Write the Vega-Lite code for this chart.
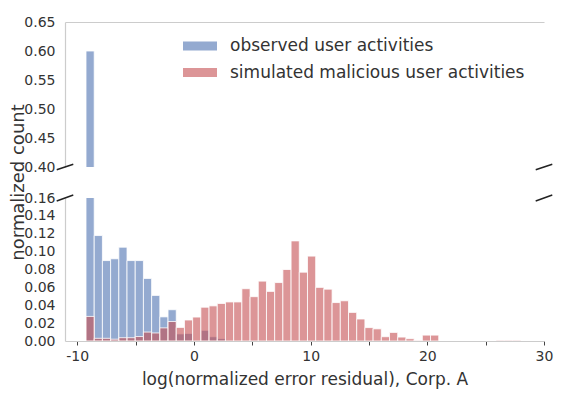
{
  "$schema": "https://vega.github.io/schema/vega-lite/v6.json",
  "padding": {"left": 8, "top": 15, "right": 5, "bottom": 5},
  "bounds": "flush",
  "spacing": 31,
  "datasets": {
    "hist": [
      {"s": "observed user activities", "x0": -9.250, "x1": -8.547, "v": 0.600},
      {"s": "observed user activities", "x0": -8.547, "x1": -7.844, "v": 0.118},
      {"s": "observed user activities", "x0": -7.844, "x1": -7.141, "v": 0.090},
      {"s": "observed user activities", "x0": -7.141, "x1": -6.438, "v": 0.092},
      {"s": "observed user activities", "x0": -6.438, "x1": -5.735, "v": 0.105},
      {"s": "observed user activities", "x0": -5.735, "x1": -5.032, "v": 0.090},
      {"s": "observed user activities", "x0": -5.032, "x1": -4.329, "v": 0.090},
      {"s": "observed user activities", "x0": -4.329, "x1": -3.626, "v": 0.070},
      {"s": "observed user activities", "x0": -3.626, "x1": -2.923, "v": 0.051},
      {"s": "observed user activities", "x0": -2.923, "x1": -2.220, "v": 0.027},
      {"s": "observed user activities", "x0": -2.220, "x1": -1.517, "v": 0.035},
      {"s": "observed user activities", "x0": -1.517, "x1": -0.814, "v": 0.008},
      {"s": "observed user activities", "x0": -0.814, "x1": -0.111, "v": 0.0085},
      {"s": "observed user activities", "x0": 0.592, "x1": 1.295, "v": 0.012},
      {"s": "observed user activities", "x0": 1.295, "x1": 1.998, "v": 0.0048},
      {"s": "observed user activities", "x0": 1.998, "x1": 2.701, "v": 0.0028},
      {"s": "simulated malicious user activities", "x0": -9.250, "x1": -8.547, "v": 0.0275},
      {"s": "simulated malicious user activities", "x0": -8.547, "x1": -7.844, "v": 0.003},
      {"s": "simulated malicious user activities", "x0": -7.844, "x1": -7.141, "v": 0.003},
      {"s": "simulated malicious user activities", "x0": -7.141, "x1": -6.438, "v": 0.002},
      {"s": "simulated malicious user activities", "x0": -6.438, "x1": -5.735, "v": 0.0037},
      {"s": "simulated malicious user activities", "x0": -5.735, "x1": -5.032, "v": 0.0037},
      {"s": "simulated malicious user activities", "x0": -5.032, "x1": -4.329, "v": 0.005},
      {"s": "simulated malicious user activities", "x0": -4.329, "x1": -3.626, "v": 0.010},
      {"s": "simulated malicious user activities", "x0": -3.626, "x1": -2.923, "v": 0.009},
      {"s": "simulated malicious user activities", "x0": -2.923, "x1": -2.220, "v": 0.0147},
      {"s": "simulated malicious user activities", "x0": -2.220, "x1": -1.517, "v": 0.0218},
      {"s": "simulated malicious user activities", "x0": -1.517, "x1": -0.814, "v": 0.0152},
      {"s": "simulated malicious user activities", "x0": -0.814, "x1": -0.111, "v": 0.0235},
      {"s": "simulated malicious user activities", "x0": -0.111, "x1": 0.592, "v": 0.0268},
      {"s": "simulated malicious user activities", "x0": 0.592, "x1": 1.295, "v": 0.0378},
      {"s": "simulated malicious user activities", "x0": 1.295, "x1": 1.998, "v": 0.0393},
      {"s": "simulated malicious user activities", "x0": 1.998, "x1": 2.701, "v": 0.042},
      {"s": "simulated malicious user activities", "x0": 2.701, "x1": 3.404, "v": 0.0437},
      {"s": "simulated malicious user activities", "x0": 3.404, "x1": 4.107, "v": 0.0437},
      {"s": "simulated malicious user activities", "x0": 4.107, "x1": 4.810, "v": 0.0585},
      {"s": "simulated malicious user activities", "x0": 4.810, "x1": 5.513, "v": 0.0496},
      {"s": "simulated malicious user activities", "x0": 5.513, "x1": 6.216, "v": 0.067},
      {"s": "simulated malicious user activities", "x0": 6.216, "x1": 6.919, "v": 0.0555},
      {"s": "simulated malicious user activities", "x0": 6.919, "x1": 7.622, "v": 0.0654},
      {"s": "simulated malicious user activities", "x0": 7.622, "x1": 8.325, "v": 0.080},
      {"s": "simulated malicious user activities", "x0": 8.325, "x1": 9.028, "v": 0.112},
      {"s": "simulated malicious user activities", "x0": 9.028, "x1": 9.731, "v": 0.077},
      {"s": "simulated malicious user activities", "x0": 9.731, "x1": 10.434, "v": 0.095},
      {"s": "simulated malicious user activities", "x0": 10.434, "x1": 11.137, "v": 0.060},
      {"s": "simulated malicious user activities", "x0": 11.137, "x1": 11.840, "v": 0.058},
      {"s": "simulated malicious user activities", "x0": 11.840, "x1": 12.543, "v": 0.043},
      {"s": "simulated malicious user activities", "x0": 12.543, "x1": 13.246, "v": 0.045},
      {"s": "simulated malicious user activities", "x0": 13.246, "x1": 13.949, "v": 0.032},
      {"s": "simulated malicious user activities", "x0": 13.949, "x1": 14.652, "v": 0.0246},
      {"s": "simulated malicious user activities", "x0": 14.652, "x1": 15.355, "v": 0.015},
      {"s": "simulated malicious user activities", "x0": 15.355, "x1": 16.058, "v": 0.0136},
      {"s": "simulated malicious user activities", "x0": 16.058, "x1": 16.761, "v": 0.0048},
      {"s": "simulated malicious user activities", "x0": 16.761, "x1": 17.464, "v": 0.0096},
      {"s": "simulated malicious user activities", "x0": 17.464, "x1": 18.167, "v": 0.0044},
      {"s": "simulated malicious user activities", "x0": 18.167, "x1": 18.870, "v": 0.0026},
      {"s": "simulated malicious user activities", "x0": 18.870, "x1": 19.573, "v": 0.0007},
      {"s": "simulated malicious user activities", "x0": 19.573, "x1": 20.276, "v": 0.0066},
      {"s": "simulated malicious user activities", "x0": 20.276, "x1": 20.979, "v": 0.0066},
      {"s": "simulated malicious user activities", "x0": 25.900, "x1": 26.603, "v": 0.0008},
      {"s": "simulated malicious user activities", "x0": 26.603, "x1": 27.306, "v": 0.0008},
      {"s": "simulated malicious user activities", "x0": 27.306, "x1": 28.009, "v": 0.0008}
    ],
    "breaksTop": [
      {"bx": -11.76, "bx2": -10.34, "by": 0.3953, "by2": 0.4047},
      {"bx": 29.29, "bx2": 30.71, "by": 0.3953, "by2": 0.4047}
    ],
    "breaksBottom": [
      {"bx": -11.76, "bx2": -10.34, "by": 0.1567, "by2": 0.1633},
      {"bx": 29.29, "bx2": 30.71, "by": 0.1567, "by2": 0.1633}
    ]
  },
  "resolve": {"legend": {"color": "independent"}},
  "vconcat": [
    {
      "width": 479,
      "height": 145,
      "layer": [
        {
          "data": {"name": "hist"},
          "mark": {"type": "bar", "clip": true, "fillOpacity": 0.6, "stroke": "white", "strokeWidth": 0.8},
          "encoding": {
            "x": {
              "field": "x0",
              "type": "quantitative",
              "scale": {"domain": [-11.05, 30], "nice": false, "zero": false},
              "axis": {"orient": "top", "labels": false, "ticks": false, "title": null}
            },
            "x2": {"field": "x1"},
            "y": {
              "field": "v",
              "type": "quantitative",
              "scale": {"domain": [0.4, 0.65], "nice": false, "zero": false},
              "axis": {
                "values": [0.4, 0.45, 0.5, 0.55, 0.6, 0.65],
                "tickCount": 20,
                "format": ".2f",
                "title": null,
                "labelOverlap": false,
                "labelFlush": false,
                "labelBound": false
              }
            },
            "y2": {"datum": 0},
            "color": {
              "field": "s",
              "type": "nominal",
              "sort": null,
              "scale": {"domain": ["observed user activities", "simulated malicious user activities"], "range": ["#4C72B0", "#C44E52"]},
              "legend": {
                "orient": "none",
                "legendX": 118,
                "legendY": 7,
                "title": null,
                "padding": 0,
                "symbolType": "M-1,-0.265H1V0.265H-1Z",
                "symbolSize": 1156,
                "symbolOpacity": 0.6,
                "symbolStrokeWidth": 0,
                "labelFontSize": 17,
                "labelColor": "#333333",
                "labelOffset": 13,
                "labelLimit": 0,
                "rowPadding": 1.5
              }
            }
          }
        },
        {
          "mark": {"type": "rule", "color": "#cccccc", "strokeWidth": 1.2},
          "encoding": {"x": {"datum": 30}}
        },
        {
          "data": {"name": "breaksTop"},
          "mark": {"type": "rule", "color": "#222222", "strokeWidth": 1.5},
          "encoding": {
            "x": {"field": "bx", "type": "quantitative"},
            "x2": {"field": "bx2"},
            "y": {"field": "by", "type": "quantitative"},
            "y2": {"field": "by2"}
          }
        }
      ]
    },
    {
      "width": 479,
      "height": 143,
      "layer": [
        {
          "data": {"name": "hist"},
          "mark": {"type": "bar", "clip": true, "fillOpacity": 0.6, "stroke": "white", "strokeWidth": 0.8},
          "encoding": {
            "x": {
              "field": "x0",
              "type": "quantitative",
              "scale": {"domain": [-11.05, 30], "nice": false, "zero": false},
              "axis": {
                "values": [-10, -5, 0, 5, 10, 15, 20, 25, 30],
                "tickCount": 20,
                "labelExpr": "datum.value % 10 == 0 ? replace(format(datum.value, 'd'), '\u2212', '-') : ''",
                "labelOverlap": false,
                "labelFlush": false,
                "ticks": true,
                "tickSize": 4,
                "tickColor": "#444444",
                "labelPadding": 4,
                "title": "log(normalized error residual), Corp. A",
                "titlePadding": 8
              }
            },
            "x2": {"field": "x1"},
            "y": {
              "field": "v",
              "type": "quantitative",
              "scale": {"domain": [0, 0.16], "nice": false},
              "axis": {
                "values": [0, 0.02, 0.04, 0.06, 0.08, 0.1, 0.12, 0.14, 0.16],
                "tickCount": 20,
                "format": ".2f",
                "labelOverlap": false,
                "labelFlush": false,
                "labelBound": false,
                "title": "normalized count",
                "titleFontSize": 18,
                "titleX": -42,
                "titleY": -16,
                "titleAngle": -90,
                "titleAlign": "center",
                "titleBaseline": "alphabetic"
              }
            },
            "y2": {"datum": 0},
            "color": {
              "field": "s",
              "type": "nominal",
              "sort": null,
              "scale": {"domain": ["observed user activities", "simulated malicious user activities"], "range": ["#4C72B0", "#C44E52"]},
              "legend": null
            }
          }
        },
        {
          "mark": {"type": "rule", "color": "#cccccc", "strokeWidth": 1.2},
          "encoding": {"x": {"datum": 30}}
        },
        {
          "data": {"name": "breaksBottom"},
          "mark": {"type": "rule", "color": "#222222", "strokeWidth": 1.5},
          "encoding": {
            "x": {"field": "bx", "type": "quantitative"},
            "x2": {"field": "bx2"},
            "y": {"field": "by", "type": "quantitative"},
            "y2": {"field": "by2"}
          }
        }
      ]
    }
  ],
  "config": {
    "font": "DejaVu Sans",
    "view": {"stroke": null},
    "axis": {
      "grid": false,
      "ticks": false,
      "domainColor": "#cccccc",
      "domainWidth": 1.2,
      "labelFontSize": 14,
      "labelColor": "#333333",
      "labelPadding": 10,
      "titleFontSize": 17,
      "titleFontWeight": "normal",
      "titleColor": "#333333"
    }
  }
}
